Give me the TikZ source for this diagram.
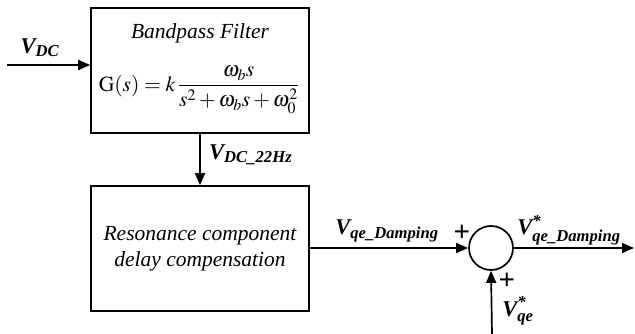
\documentclass[tikz,border=0pt]{standalone}
\usepackage{amsmath}
\usepackage{mathptmx}
\usepackage{fontspec}
\setmainfont{Liberation Serif}
\usepackage{tikz}
\usetikzlibrary{arrows.meta,positioning}

\tikzset{
  blockbox/.style={draw, line width=1.6pt, minimum width=218pt, minimum height=125pt, inner sep=0pt},
  sigline/.style={line width=1.7pt, -{Triangle[length=12pt,width=10pt]}},
  siglbl/.style={font=\fontsize{22.5}{22.5}\selectfont\bfseries\itshape, inner sep=0pt},
  sumsign/.style={font=\fontsize{29}{29}\selectfont\bfseries, inner sep=0pt}
}
\newcommand{\sig}[1]{$\textbf{\textit{V}}_{\textbf{\textit{#1}}}$}
\newcommand{\sigref}[1]{$\textbf{\textit{V}}^{\textbf{*}}_{\textbf{\textit{#1}}}$}

\begin{document}
\begin{tikzpicture}[x=1pt, y=-1pt]
  \useasboundingbox (0,0) rectangle (635,334);
  % blocks
  \node[blockbox, align=center] (bpf) at (200,70.5) {};
  \node[font=\fontsize{21.5}{21.5}\selectfont\itshape] (bpftitle) at (200,33) {Bandpass Filter};
  \node[font=\fontsize{21.5}{21.5}\selectfont] (bpfeq) at (199,90)
    {$\mathrm{G}(s)=k\,\dfrac{\omega_{b}s}{s^{2}+\omega_{b}s+\omega_{0}^{2}}$};
  \node[blockbox, align=center, font=\fontsize{21.5}{26}\selectfont\itshape] (comp) at (200,248.5)
    {Resonance component\\delay compensation};
  \node[draw, circle, line width=1.7pt, minimum size=44pt, inner sep=0pt] (sum) at (491,248) {};
  % free ends
  \coordinate (vdcin) at (7,65);
  \coordinate (vout) at (634,248);
  \coordinate (vqein) at (492,334);
  % connectors
  \draw[sigline] (vdcin) -- (vdcin -| bpf.west);
  \draw[sigline] (bpf.south) -- (comp.north);
  \draw[sigline] (comp.east |- sum.west) -- (sum.west);
  \draw[sigline] (sum.east) -- (vout);
  \draw[sigline] (vqein) -- (sum.south);
  % labels
  \node[siglbl] (lvdc) at (40,48) {\sig{DC}};
  \node[siglbl, anchor=west] (lvdc22) at (209,155) {\sig{DC\_22Hz}};
  \node[siglbl] (lvqed) at (387,231) {\sig{qe\_Damping}};
  \node[siglbl] (lvout) at (569,230) {\sigref{qe\_Damping}};
  \node[siglbl] (lvqe) at (518,311) {\sigref{qe}};
  \node[sumsign] (plus1) at (462,233) {+};
  \node[sumsign] (plus2) at (507,281) {+};
\end{tikzpicture}
\end{document}
